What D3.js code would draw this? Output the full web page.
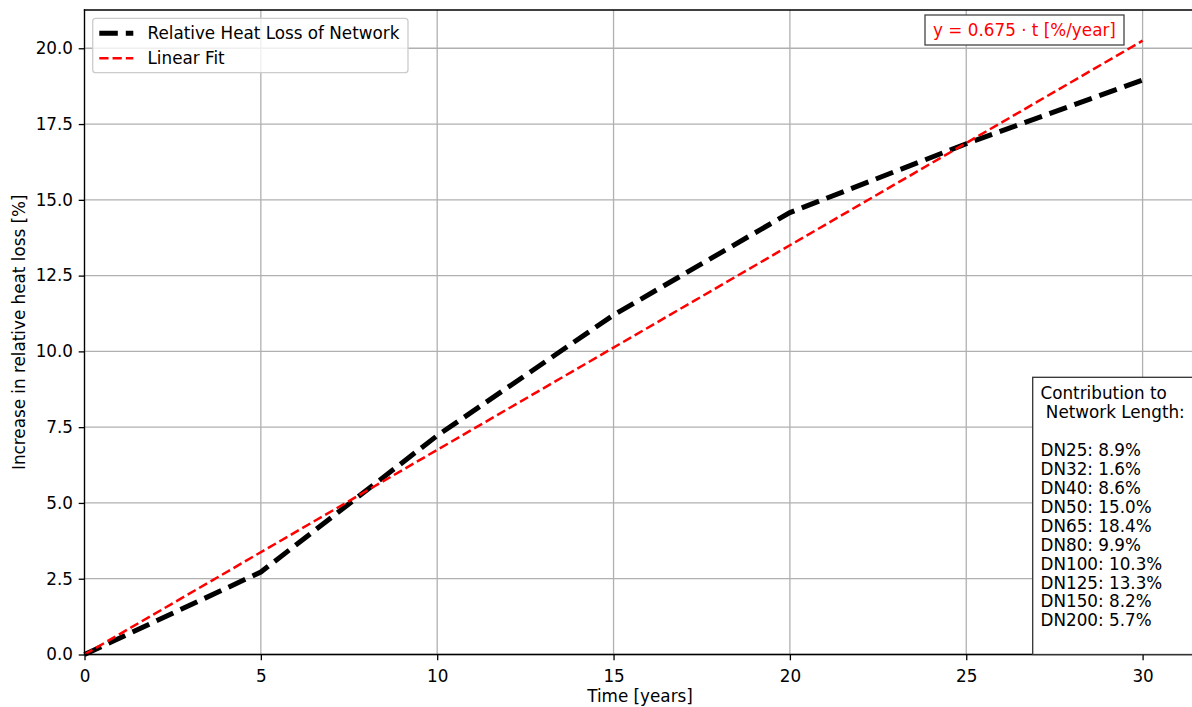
<!DOCTYPE html>
<html>
<head>
<meta charset="utf-8">
<script src="https://cdn.jsdelivr.net/npm/d3@7"></script>
<style>
  html, body { margin: 0; padding: 0; background: #fff; }
  svg { display: block; }
  text { font-family: "DejaVu Sans", sans-serif; }
</style>
</head>
<body>
<svg id="chart" width="1192" height="707"></svg>
<script>
// ---- data ----
const years = [0, 5, 10, 15, 20, 25, 30];
const heatLoss = [0, 2.72, 7.22, 11.2, 14.58, 16.85, 18.95];
const fitYears = [0, 30];
const fitValues = [0, 20.25];
const xTicks = [0, 5, 10, 15, 20, 25, 30];
const yTicks = [0, 2.5, 5, 7.5, 10, 12.5, 15, 17.5, 20];
const seriesNames = ["Relative Heat Loss of Network", "Linear Fit"];
const equationLabel = "y = 0.675 \u00b7 t [%/year]";
const infoLines = ["Contribution to", " Network Length:", "",
  "DN25: 8.9%", "DN32: 1.6%", "DN40: 8.6%", "DN50: 15.0%", "DN65: 18.4%",
  "DN80: 9.9%", "DN100: 10.3%", "DN125: 13.3%", "DN150: 8.2%", "DN200: 5.7%"];

(function () {
// ---- layout ----
const FS = 16.8;
const pL = 84.5, pR = 1195.5, pT = 10, pB = 654.5;
const svg = d3.select("#chart");

const x = d3.scaleLinear().domain([0, 31.5]).range([pL, pR]);
const y = d3.scaleLinear().domain([0, 21.2625]).range([pB, pT]);

// grid
const grid = svg.append("g");
grid.selectAll("line.vx").data(xTicks).join("line").attr("class", "vx")
  .attr("x1", d => x(d)).attr("x2", d => x(d))
  .attr("y1", pT).attr("y2", pB)
  .attr("stroke", "#b0b0b0").attr("stroke-width", 1.3);
grid.selectAll("line.hy").data(yTicks).join("line").attr("class", "hy")
  .attr("x1", pL).attr("x2", pR)
  .attr("y1", d => y(d)).attr("y2", d => y(d))
  .attr("stroke", "#b0b0b0").attr("stroke-width", 1.3);

// lines
const line = d3.line().x(d => x(d[0])).y(d => y(d[1]));
svg.append("path")
  .datum(years.map((t, i) => [t, heatLoss[i]]))
  .attr("d", line)
  .attr("fill", "none").attr("stroke", "#000").attr("stroke-width", 5)
  .attr("stroke-dasharray", "18.5,8");
svg.append("path")
  .datum(fitYears.map((t, i) => [t, fitValues[i]]))
  .attr("d", line)
  .attr("fill", "none").attr("stroke", "#ff0000").attr("stroke-width", 2.5)
  .attr("stroke-dasharray", "9.25,4");

// axes
const xAxis = svg.append("g").attr("transform", `translate(0,${pB})`)
  .call(d3.axisBottom(x).tickValues(xTicks).tickSize(5.8).tickPadding(9.6).tickFormat(d3.format("d")));
const yAxis = svg.append("g").attr("transform", `translate(${pL},0)`)
  .call(d3.axisLeft(y).tickValues(yTicks).tickSize(5.8).tickPadding(5.7).tickFormat(d3.format(".1f")));
[xAxis, yAxis].forEach(a => {
  a.select(".domain").remove();
  a.selectAll(".tick line").attr("stroke", "#000").attr("stroke-width", 1.3);
  a.selectAll(".tick text").attr("fill", "#000").style("font-size", FS + "px")
    .style("font-family", "'DejaVu Sans', sans-serif");
});

// spines
[[pL, pR, pB, pB], [pL, pR, pT, pT], [pL, pL, pT, pB], [pR, pR, pT, pB]].forEach(s => {
  svg.append("line").attr("x1", s[0]).attr("x2", s[1]).attr("y1", s[2]).attr("y2", s[3])
    .attr("stroke", "#000").attr("stroke-width", 1.3).attr("stroke-linecap", "square");
});

// axis labels
svg.append("text").attr("x", (pL + pR) / 2).attr("y", 702)
  .attr("text-anchor", "middle").style("font-size", FS + "px").text("Time [years]");
svg.append("text").attr("transform", `translate(25,${(pT + pB) / 2}) rotate(-90)`)
  .attr("text-anchor", "middle").style("font-size", FS + "px")
  .text("Increase in relative heat loss [%]");

// legend
const lg = svg.append("g");
lg.append("rect").attr("x", 92.7).attr("y", 18.3).attr("width", 315.3).attr("height", 54.4)
  .attr("rx", 3).attr("fill", "#fff").attr("fill-opacity", 0.8)
  .attr("stroke", "#cccccc").attr("stroke-width", 1.3);
const legendStyles = [
  { stroke: "#000", w: 5, dash: "18.5,8" },
  { stroke: "#ff0000", w: 2.5, dash: "9.25,4" }
];
seriesNames.forEach((name, i) => {
  const cy = 33.3 + i * 25;
  lg.append("line").attr("x1", 99.3).attr("x2", 133.3).attr("y1", cy).attr("y2", cy)
    .attr("stroke", legendStyles[i].stroke).attr("stroke-width", legendStyles[i].w)
    .attr("stroke-dasharray", legendStyles[i].dash);
  lg.append("text").attr("x", 147.5).attr("y", cy + 6)
    .style("font-size", FS + "px").attr("fill", "#000").text(name);
});

// equation box
const eq = svg.append("g");
eq.append("rect").attr("x", 925).attr("y", 15).attr("width", 199).attr("height", 30)
  .attr("fill", "#fff").attr("stroke", "#444").attr("stroke-width", 1.3);
eq.append("text").attr("x", 1024.5).attr("y", 36).attr("text-anchor", "middle")
  .attr("fill", "#ff0000").style("font-size", FS + "px").text(equationLabel);

// info box
const info = svg.append("g");
info.append("rect").attr("x", 1032.7).attr("y", 377.3).attr("width", 200).attr("height", 277.2)
  .attr("fill", "#fff").attr("stroke", "#333").attr("stroke-width", 1.3);
info.selectAll("text").data(infoLines).join("text")
  .attr("x", 1040.5).attr("y", (d, i) => 399 + i * 18.95)
  .style("font-size", FS + "px").style("white-space", "pre").attr("fill", "#000")
  .text(d => d);
})();
</script>
</body>
</html>
